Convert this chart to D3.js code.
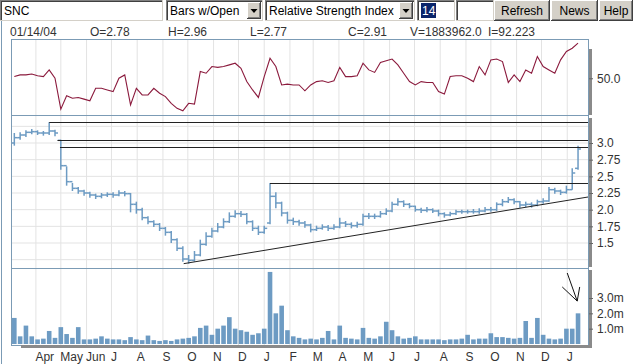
<!DOCTYPE html>
<html>
<head>
<meta charset="utf-8">
<script src="https://cdn.jsdelivr.net/npm/d3@7"></script>
<style>
  body { margin: 0; background: #fff; }
  svg { display: block; font-family: Arial, "Liberation Sans", sans-serif; }
</style>
</head>
<body>
<svg id="chart" width="633" height="364"></svg>
<script>
// toolbar + header text
const symbol = "SNC"
const chartType = "Bars w/Open"
const study = "Relative Strength Index"
const period = "14"
const buttons = ["Refresh", "News", "Help"]
const infoLabels = ["01/14/04", "O=2.78", "H=2.96", "L=2.77", "C=2.91", "V=1883962.0", "I=92.223"]

// weekly samples, first one on Wed 6 Mar 2002
const firstWeek = new Date(2002, 2, 6)
const monthLabels = ["Apr", "May", "Jun", "J", "A", "S", "O", "N", "D", "J", "F",
  "M", "A", "M", "J", "J", "A", "S", "O", "N", "D", "J"]

const opens = [3.00, 3.08, 3.12, 3.16, 3.17, 3.15, 3.15, 3.18, 3.04, 2.66,
  2.42, 2.32, 2.28, 2.25, 2.22, 2.20, 2.22, 2.23, 2.22, 2.25,
  2.24, 2.08, 2.00, 1.88, 1.82, 1.78, 1.72, 1.66, 1.55, 1.42,
  1.26, 1.24, 1.32, 1.48, 1.60, 1.68, 1.74, 1.82, 1.90, 1.94,
  1.93, 1.82, 1.72, 1.66, 1.80, 2.20, 2.10, 1.95, 1.84, 1.82,
  1.80, 1.77, 1.70, 1.72, 1.74, 1.72, 1.74, 1.80, 1.78, 1.76,
  1.78, 1.90, 1.90, 1.90, 1.94, 1.98, 2.08, 2.12, 2.08, 2.05,
  2.00, 1.99, 2.00, 1.98, 1.94, 1.92, 1.94, 1.97, 1.97, 1.97,
  1.97, 1.98, 2.00, 2.00, 2.08, 2.12, 2.15, 2.12, 2.07, 2.08,
  2.07, 2.12, 2.13, 2.30, 2.28, 2.26, 2.30, 2.62]
const highs = [3.15, 3.16, 3.19, 3.21, 3.19, 3.18, 3.31, 3.20, 3.05, 2.65,
  2.40, 2.34, 2.30, 2.27, 2.24, 2.25, 2.26, 2.26, 2.29, 2.28,
  2.25, 2.12, 2.03, 1.90, 1.84, 1.80, 1.74, 1.68, 1.57, 1.45,
  1.32, 1.38, 1.55, 1.66, 1.73, 1.80, 1.87, 1.96, 1.99, 1.98,
  1.95, 1.84, 1.76, 1.76, 2.40, 2.26, 2.12, 1.97, 1.88, 1.85,
  1.83, 1.79, 1.76, 1.78, 1.77, 1.78, 1.88, 1.83, 1.81, 1.82,
  1.94, 1.95, 1.94, 1.98, 2.02, 2.12, 2.17, 2.14, 2.10, 2.06,
  2.03, 2.04, 2.02, 2.00, 1.96, 1.97, 2.00, 2.00, 2.00, 2.01,
  2.02, 2.04, 2.04, 2.11, 2.16, 2.19, 2.17, 2.13, 2.12, 2.11,
  2.15, 2.17, 2.34, 2.33, 2.30, 2.36, 2.62, 2.96]
const lows = [2.96, 3.05, 3.09, 3.13, 3.12, 3.11, 3.12, 3.10, 2.60, 2.36,
  2.28, 2.24, 2.21, 2.18, 2.16, 2.17, 2.19, 2.18, 2.20, 2.20,
  1.96, 1.94, 1.84, 1.78, 1.74, 1.68, 1.61, 1.50, 1.38, 1.22,
  1.19, 1.22, 1.30, 1.46, 1.58, 1.66, 1.72, 1.80, 1.88, 1.89,
  1.78, 1.68, 1.62, 1.64, 1.78, 2.02, 1.90, 1.79, 1.77, 1.76,
  1.73, 1.66, 1.68, 1.70, 1.68, 1.70, 1.72, 1.74, 1.72, 1.73,
  1.76, 1.86, 1.86, 1.88, 1.92, 1.96, 2.06, 2.04, 2.02, 1.97,
  1.95, 1.96, 1.95, 1.90, 1.88, 1.90, 1.92, 1.94, 1.94, 1.94,
  1.94, 1.96, 1.97, 1.98, 2.05, 2.10, 2.08, 2.03, 2.04, 2.03,
  2.05, 2.09, 2.12, 2.24, 2.22, 2.24, 2.30, 2.60]
const closes = [3.08, 3.12, 3.16, 3.17, 3.15, 3.15, 3.18, 3.15, 2.66, 2.42,
  2.32, 2.28, 2.25, 2.22, 2.20, 2.22, 2.23, 2.22, 2.25, 2.24,
  2.08, 2.00, 1.88, 1.82, 1.78, 1.72, 1.66, 1.55, 1.42, 1.26,
  1.24, 1.32, 1.48, 1.60, 1.68, 1.74, 1.82, 1.90, 1.94, 1.93,
  1.82, 1.72, 1.66, 1.72, 2.20, 2.10, 1.95, 1.84, 1.82, 1.80,
  1.77, 1.70, 1.72, 1.74, 1.72, 1.74, 1.80, 1.78, 1.76, 1.78,
  1.90, 1.90, 1.90, 1.94, 1.98, 2.08, 2.12, 2.08, 2.05, 2.00,
  1.99, 2.00, 1.98, 1.94, 1.92, 1.94, 1.97, 1.97, 1.97, 1.97,
  1.98, 2.00, 2.00, 2.08, 2.12, 2.15, 2.12, 2.07, 2.08, 2.07,
  2.12, 2.13, 2.30, 2.28, 2.26, 2.30, 2.55, 2.91]
const rsi = [52, 54, 54, 55, 53, 52, 60, 50, 13, 29,
  26, 27, 25, 23, 38, 38, 36, 34, 50, 54,
  18, 38, 30, 30, 38, 32, 28, 20, 14, 11,
  20, 19, 58, 56, 64, 63, 64, 66, 68, 62,
  46, 36, 27, 52, 74, 64, 42, 43, 42, 42,
  35, 42, 46, 47, 45, 47, 63, 52, 52, 53,
  68, 60, 57, 69, 71, 73, 66, 56, 46, 42,
  46, 45, 45, 34, 31, 52, 53, 53, 50, 46,
  64, 54, 72, 73, 70, 45, 54, 46, 60, 56,
  76, 64, 60, 56, 72, 82, 86, 92]
// volume in millions of shares
const volume = [1.7, 0.5, 1.2, 0.5, 0.3, 0.35, 0.85, 0.4, 1.1, 0.65,
  0.4, 1.1, 0.3, 0.3, 0.35, 0.5, 0.35, 0.3, 0.3, 0.25,
  0.45, 0.3, 0.25, 0.55, 0.25, 0.2, 0.25, 0.2, 0.3, 0.35,
  0.4, 0.5, 1.05, 1.2, 0.6, 1.0, 1.2, 1.75, 1.0, 0.9,
  0.8, 0.6, 0.7, 1.0, 4.7, 2.0, 2.5, 0.9, 0.5, 0.4,
  0.3, 0.35, 0.3, 0.4, 0.85, 0.3, 1.2, 0.4, 0.35, 0.3,
  1.05, 0.4, 0.35, 0.5, 1.45, 0.9, 0.5, 0.35, 0.4, 0.5,
  0.3, 0.3, 0.3, 0.3, 0.25, 0.3, 0.3, 0.35, 0.6, 0.3,
  0.35, 0.35, 0.7, 0.45, 0.45, 0.4, 0.35, 0.4, 1.5, 0.4,
  1.7, 0.6, 0.35, 0.3, 0.35, 1.0, 1.0, 2.0]

// drawn studies
const resistLevels = [3.31, 3.04, 2.94, 2.40]
const resistStart = ["2002-04-17", "2002-04-27", "2002-04-30", "2003-01-08"]
const trendDates = ["2002-09-26", "2004-01-26"]
const trendValues = [1.19, 2.19]
const arrowDates = ["2003-12-26", "2004-01-13", "2004-01-16", "2004-01-01"]
const arrowVols = [3.72, 2.8, 3.72, 4.63]

// axis ticks
const priceTicks = [1.5, 1.75, 2.0, 2.25, 2.5, 2.75, 3.0]
const priceTickLabels = ["1.5", "1.75", "2.0", "2.25", "2.5", "2.75", "3.0"]
const priceGrid = [1.25, 1.5, 1.75, 2.0, 2.25, 2.5, 2.75, 3.0, 3.25]
const volTicks = [1, 2, 3]
const volTickLabels = ["1.0m", "2.0m", "3.0m"]
const rsiTicks = [50]
const rsiTickLabels = ["50.0"]

// ---- layout
const L = 11, R = 588
const rsiTop = 39, priceTop = 115, volTop = 268, volBottom = 345
const border = "#7b9bb5", grid = "#e3e3e3", barBlue = "#6d9bc3", rsiRed = "#8b1a3d"

const parse = d3.timeParse("%Y-%m-%d")
const weeks = closes.map((c, i) => d3.timeDay.offset(firstWeek, 7 * i))
const months = d3.timeMonth.range(new Date(2002, 3, 1), new Date(2004, 1, 1))

const x = d3.scaleTime().domain([new Date(2002, 2, 2), new Date(2004, 0, 26)]).range([L, R])
const yRsi = d3.scaleLinear().domain([0, 100]).range([120, 36.5])
const yPrice = d3.scaleLinear().domain([1.5, 3.0]).range([243, 143])
const yVol = d3.scaleLinear().domain([0, 3]).range([344, 298])

const svg = d3.select("#chart")
const defs = svg.append("defs")
const clip = (id, y0, y1) => {
  defs.append("clipPath").attr("id", id).append("rect")
    .attr("x", L).attr("y", y0).attr("width", R - L).attr("height", y1 - y0)
  return `url(#${id})`
}

// ---- toolbar
const tb = svg.append("g")
const hline = (g, x1, x2, y, c) => g.append("line").attr("x1", x1).attr("x2", x2).attr("y1", y).attr("y2", y).attr("stroke", c)
const vline = (g, x0, y1, y2, c) => g.append("line").attr("x1", x0).attr("x2", x0).attr("y1", y1).attr("y2", y2).attr("stroke", c)

function sunken(x0, w, h) {
  tb.append("rect").attr("x", x0).attr("y", 0).attr("width", w).attr("height", h).attr("fill", "#fff")
  hline(tb, x0, x0 + w, 0.5, "#808080"); vline(tb, x0 + 0.5, 0, h, "#808080")
  hline(tb, x0 + 1, x0 + w - 1, 1.5, "#404040"); vline(tb, x0 + 1.5, 1, h - 1, "#404040")
  hline(tb, x0, x0 + w, h - 0.5, "#d4d0c8"); vline(tb, x0 + w - 0.5, 0, h, "#d4d0c8")
}
function raised(x0, y0, w, h) {
  tb.append("rect").attr("x", x0).attr("y", y0).attr("width", w).attr("height", h).attr("fill", "#d4d0c8")
  hline(tb, x0, x0 + w, y0 + 0.5, "#fff"); vline(tb, x0 + 0.5, y0, y0 + h, "#fff")
  hline(tb, x0, x0 + w, y0 + h - 0.5, "#404040"); vline(tb, x0 + w - 0.5, y0, y0 + h, "#404040")
  hline(tb, x0 + 1, x0 + w - 1, y0 + h - 1.5, "#808080"); vline(tb, x0 + w - 1.5, y0 + 1, y0 + h - 1, "#808080")
}
function dropdown(x0, w, label) {
  sunken(x0, w, 21)
  tb.append("text").attr("x", x0 + 4).attr("y", 15).attr("font-size", 12).attr("fill", "#000").text(label)
  raised(x0 + w - 16, 2, 14, 17)
  const cx = x0 + w - 9
  tb.append("path").attr("d", `M${cx - 3.5},9 h7 l-3.5,4z`).attr("fill", "#000")
}

sunken(0, 163, 21)
tb.append("text").attr("x", 4).attr("y", 15).attr("font-size", 12).text(symbol)
dropdown(166, 97, chartType)
dropdown(265, 150, study)
sunken(417, 38, 21)
tb.append("rect").attr("x", 421).attr("y", 3).attr("width", 15).attr("height", 15).attr("fill", "#0a246a")
tb.append("text").attr("x", 422).attr("y", 15).attr("font-size", 12).attr("fill", "#fff").text(period)
sunken(456, 38, 21)
const btnX = [494, 551, 599], btnW = [56, 47, 34]
buttons.forEach((b, i) => {
  raised(btnX[i], 0, btnW[i], 21)
  tb.append("text").attr("x", btnX[i] + btnW[i] / 2).attr("y", 15).attr("text-anchor", "middle")
    .attr("font-size", 12).attr("fill", "#000").text(b)
})

// outer frame
vline(svg, 1.5, 21, 364, border)

// info line
const infoX = [10, 90, 168, 250, 348, 410, 488]
svg.append("g").selectAll("text").data(infoLabels).join("text")
  .attr("x", (d, i) => infoX[i]).attr("y", 36).attr("font-size", 12).attr("fill", "#333").text(d => d)

// ---- panel backgrounds and grids
const panels = [[rsiTop, priceTop], [priceTop, volTop], [volTop, volBottom]]
panels.forEach(([t, b]) => {
  svg.append("g").selectAll("line").data(months).join("line")
    .attr("x1", d => x(d)).attr("x2", d => x(d)).attr("y1", t).attr("y2", b)
    .attr("stroke", grid)
})
svg.append("g").selectAll("line").data(priceGrid).join("line")
  .attr("x1", L).attr("x2", R).attr("y1", d => yPrice(d)).attr("y2", d => yPrice(d))
  .attr("stroke", grid)

// ---- RSI
svg.append("path").datum(rsi)
  .attr("clip-path", clip("cRsi", rsiTop, priceTop))
  .attr("fill", "none").attr("stroke", rsiRed).attr("stroke-width", 1.1)
  .attr("d", d3.line().x((d, i) => x(weeks[i])).y(d => yRsi(d)))

// ---- price: bars with open
const pg = svg.append("g").attr("clip-path", clip("cPrice", priceTop, volTop))
  .attr("stroke", barBlue).attr("stroke-width", 1.5)
pg.selectAll("line.hl").data(closes).join("line").attr("class", "hl")
  .attr("x1", (d, i) => x(weeks[i])).attr("x2", (d, i) => x(weeks[i]))
  .attr("y1", (d, i) => yPrice(highs[i])).attr("y2", (d, i) => yPrice(lows[i]))
pg.selectAll("line.op").data(opens).join("line").attr("class", "op")
  .attr("x1", (d, i) => x(weeks[i]) - 3).attr("x2", (d, i) => x(weeks[i]))
  .attr("y1", d => yPrice(d)).attr("y2", d => yPrice(d))
pg.selectAll("line.cl").data(closes).join("line").attr("class", "cl")
  .attr("x1", (d, i) => x(weeks[i])).attr("x2", (d, i) => x(weeks[i]) + 3)
  .attr("y1", d => yPrice(d)).attr("y2", d => yPrice(d))

// resistance lines and trend line
const sg = svg.append("g").attr("stroke", "#222").attr("stroke-width", 1)
sg.selectAll("line").data(resistLevels).join("line")
  .attr("x1", (d, i) => x(parse(resistStart[i]))).attr("x2", R)
  .attr("y1", d => Math.round(yPrice(d)) + 0.5).attr("y2", d => Math.round(yPrice(d)) + 0.5)
sg.append("line")
  .attr("x1", x(parse(trendDates[0]))).attr("y1", yPrice(trendValues[0]))
  .attr("x2", x(parse(trendDates[1]))).attr("y2", yPrice(trendValues[1]))

// ---- volume
svg.append("g").attr("clip-path", clip("cVol", volTop, volBottom))
  .selectAll("rect").data(volume).join("rect")
  .attr("x", (d, i) => x(weeks[i]) - 2.3).attr("width", 4.6)
  .attr("y", d => yVol(d)).attr("height", d => yVol(0) - yVol(d))
  .attr("fill", barBlue)

// arrow annotation
const ap = arrowDates.map((d, i) => [x(parse(d)), yVol(arrowVols[i])])
svg.append("path")
  .attr("d", `M${ap[0]}L${ap[1]}L${ap[2]}M${ap[3]}L${ap[1]}`)
  .attr("fill", "none").attr("stroke", "#111")

// ---- panel borders
panels.forEach(([t, b]) => {
  svg.append("rect").attr("x", L + 0.5).attr("y", t + 0.5).attr("width", R - L).attr("height", b - t)
    .attr("fill", "none").attr("stroke", border)
})

// gray axis bars on the right and bottom
const shade = "#8a8a8a"
const shadeSpans = [[49, 115], [118, 267], [270, 348]]
svg.append("g").selectAll("rect").data(shadeSpans).join("rect")
  .attr("x", R + 1).attr("width", 3).attr("y", d => d[0]).attr("height", d => d[1] - d[0]).attr("fill", shade)
svg.append("rect").attr("x", 21).attr("y", volBottom).attr("width", R + 4 - 21).attr("height", 3).attr("fill", shade)

// ---- axes
function rightAxis(scale, ticks, labels) {
  const g = svg.append("g").attr("transform", `translate(${R + 1},0)`)
    .call(d3.axisRight(scale).tickValues(ticks).tickFormat((d, i) => labels[i]).tickSize(4).tickPadding(4))
  g.select(".domain").remove()
  g.selectAll("line").attr("stroke", "#666")
  g.selectAll("text").attr("font-size", 12).attr("font-family", null).attr("fill", "#333")
}
rightAxis(yRsi, rsiTicks, rsiTickLabels)
rightAxis(yPrice, priceTicks, priceTickLabels)
rightAxis(yVol, volTicks, volTickLabels)

const xa = svg.append("g").attr("transform", `translate(0,${volBottom + 3})`)
  .call(d3.axisBottom(x).tickValues(months).tickFormat((d, i) => monthLabels[i]).tickSize(0))
xa.select(".domain").remove()
xa.selectAll("text").attr("text-anchor", "start").attr("x", -1).attr("y", 13).attr("dy", null)
  .attr("font-size", 12).attr("font-family", null).attr("fill", "#333")
</script>
</body>
</html>
